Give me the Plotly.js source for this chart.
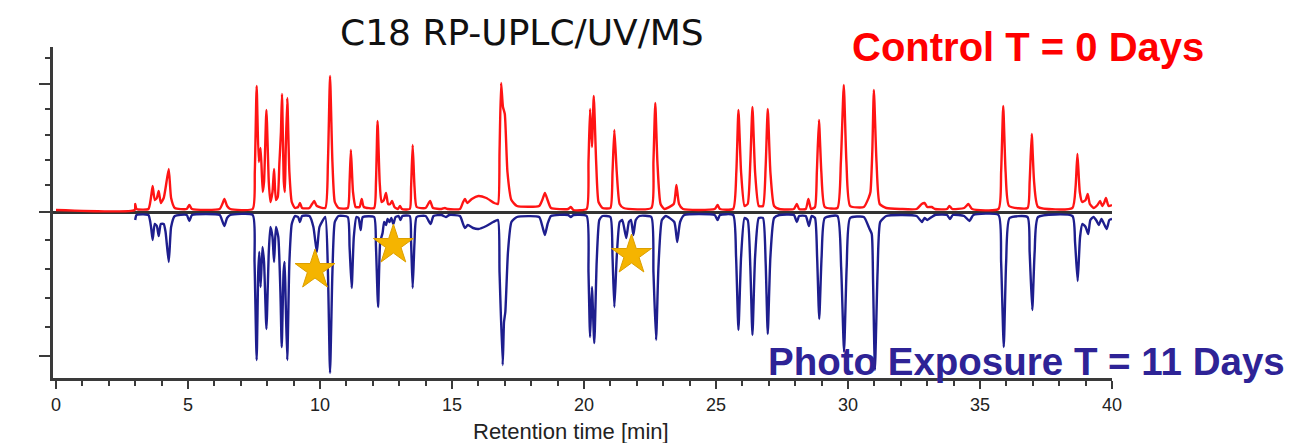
<!DOCTYPE html>
<html>
<head>
<meta charset="utf-8">
<script src="https://cdn.plot.ly/plotly-3.0.1.min.js"></script>
<style>html,body{margin:0;padding:0;background:#fff;}#chart{width:1294px;height:443px;}</style>
</head>
<body>
<div id="chart"></div>
<script>
// Control T = 0 days (retention time [min], relative UV signal)
const redTime = [
  0, 2.98, 3.0, 3.05, 3.5, 3.6, 3.66, 3.74, 3.82, 3.89,
  3.97, 4.08, 4.15, 4.27, 4.36, 4.5, 4.95, 5.05, 5.15, 6.2,
  6.3, 6.38, 6.48, 6.6, 7.45, 7.53, 7.6, 7.68, 7.75, 7.83,
  7.88, 7.97, 8.06, 8.12, 8.2, 8.26, 8.33, 8.4, 8.46, 8.52,
  8.56, 8.63, 8.67, 8.7, 8.76, 8.84, 8.93, 9.05, 9.17, 9.24,
  9.32, 9.6, 9.7, 9.78, 9.88, 10.2, 10.3, 10.38, 10.47, 10.56,
  10.7, 11.05, 11.12, 11.17, 11.25, 11.35, 11.5, 11.58, 11.66, 12.05,
  12.12, 12.18, 12.26, 12.33, 12.42, 12.5, 12.58, 12.66, 12.73, 12.82,
  12.95, 13.03, 13.1, 13.4, 13.45, 13.51, 13.58, 13.66, 14.0, 14.17,
  14.28, 14.6, 14.73, 14.85, 15.3, 15.42, 15.49, 15.58, 15.75, 16.0,
  16.3, 16.6, 16.74, 16.8, 16.86, 16.93, 17.0, 17.1, 17.25, 17.46,
  18.3, 18.42, 18.52, 18.62, 18.75, 19.4, 19.5, 19.6, 20.1, 20.17,
  20.23, 20.3, 20.37, 20.46, 20.55, 20.7, 21.0, 21.08, 21.15, 21.24,
  21.35, 21.5, 22.55, 22.63, 22.7, 22.78, 22.9, 23.05, 23.4, 23.5,
  23.6, 23.75, 24.95, 25.06, 25.15, 25.65, 25.77, 25.85, 25.95, 26.08,
  26.2, 26.3, 26.38, 26.48, 26.62, 26.78, 26.88, 26.96, 27.06, 27.2,
  27.4, 27.95, 28.06, 28.15, 28.4, 28.5, 28.6, 28.75, 28.82, 28.9,
  28.99, 29.12, 29.6, 29.73, 29.84, 29.94, 30.08, 30.6, 30.78, 30.85,
  30.92, 30.98, 31.08, 31.2, 31.45, 32.0, 32.6, 32.79, 32.9, 33.0,
  33.17, 33.3, 33.75, 33.84, 33.95, 34.4, 34.56, 34.7, 35.7, 35.8,
  35.88, 35.97, 36.1, 36.8, 36.88, 36.96, 37.05, 37.2, 38.5, 38.62,
  38.69, 38.78, 38.87, 39.0, 39.08, 39.16, 39.3, 39.45, 39.55, 39.63,
  39.7, 39.77, 39.87, 40.0
];
const redSignal = [
  2, 2, 8, 3, 3, 15, 26, 12, 14, 21,
  9, 14, 24, 43, 14, 4, 3, 7, 3, 3,
  8, 13, 6, 3, 3, 40, 126, 50, 64, 20,
  30, 102, 30, 10, 20, 43, 12, 15, 48, 80,
  118, 30, 20, 60, 114, 40, 10, 4, 5, 9,
  4, 4, 8, 11, 6, 4, 50, 136, 50, 10,
  4, 4, 30, 62, 20, 5, 5, 13, 5, 4,
  30, 91, 30, 10, 12, 19, 8, 8, 11, 5,
  3, 6, 3, 3, 25, 67, 25, 5, 4, 11,
  4, 3, 4, 3, 3, 10, 13, 9, 13, 16,
  14, 9, 8, 60, 129, 105, 98, 40, 12, 6,
  6, 12, 19, 12, 4, 3, 5, 2, 3, 50,
  103, 65, 116, 50, 10, 4, 4, 40, 82, 40,
  8, 4, 4, 50, 109, 50, 8, 3, 8, 27,
  8, 3, 3, 7, 3, 3, 40, 102, 40, 6,
  8, 50, 105, 40, 6, 6, 45, 103, 40, 6,
  3, 3, 8, 3, 3, 13, 3, 5, 40, 92,
  40, 5, 4, 50, 127, 50, 6, 5, 14, 20,
  60, 122, 50, 8, 4, 3, 3, 8, 9, 5,
  5, 3, 3, 6, 3, 4, 8, 3, 3, 40,
  106, 40, 6, 4, 30, 78, 30, 5, 4, 25,
  58, 20, 10, 12, 18, 8, 4, 7, 11, 6,
  9, 14, 6, 7
];

// Photo exposure T = 11 days (plotted inverted)
const blueTime = [
  3.0, 3.05, 3.5, 3.6, 3.66, 3.74, 3.82, 3.89, 3.97, 4.08,
  4.15, 4.27, 4.36, 4.5, 4.95, 5.05, 5.15, 6.2, 6.3, 6.38,
  6.48, 6.6, 7.45, 7.52, 7.6, 7.66, 7.7, 7.75, 7.82, 7.88,
  7.97, 8.06, 8.12, 8.2, 8.26, 8.33, 8.42, 8.5, 8.55, 8.62,
  8.66, 8.7, 8.76, 8.84, 8.93, 9.05, 9.17, 9.24, 9.32, 9.6,
  9.75, 9.88, 9.98, 10.2, 10.3, 10.38, 10.47, 10.56, 10.7, 11.05,
  11.12, 11.2, 11.28, 11.38, 11.46, 11.54, 11.62, 12.05, 12.12, 12.2,
  12.28, 12.37, 12.43, 12.5, 12.56, 12.63, 12.7, 12.78, 12.86, 12.98,
  13.05, 13.12, 13.4, 13.45, 13.51, 13.58, 13.66, 14.0, 14.19, 14.3,
  14.6, 14.77, 14.9, 15.3, 15.42, 15.49, 15.6, 15.8, 16.0, 16.3,
  16.56, 16.74, 16.8, 16.92, 16.97, 17.02, 17.12, 17.25, 17.46, 18.3,
  18.42, 18.52, 18.62, 18.75, 19.4, 19.5, 19.6, 20.1, 20.17, 20.23,
  20.3, 20.39, 20.48, 20.58, 20.7, 21.0, 21.08, 21.15, 21.24, 21.35,
  21.45, 21.6, 21.7, 21.78, 21.87, 21.96, 22.1, 22.55, 22.63, 22.73,
  22.82, 22.95, 23.1, 23.42, 23.53, 23.64, 23.8, 24.95, 25.06, 25.15,
  25.65, 25.76, 25.85, 25.95, 26.08, 26.2, 26.3, 26.38, 26.48, 26.62,
  26.78, 26.88, 26.96, 27.06, 27.2, 27.4, 27.95, 28.06, 28.15, 28.4,
  28.52, 28.62, 28.75, 28.83, 28.91, 29.0, 29.12, 29.6, 29.74, 29.85,
  29.95, 30.08, 30.6, 30.8, 30.9, 30.95, 31.02, 31.12, 31.22, 31.45,
  32.0, 32.6, 32.8, 32.9, 33.0, 33.17, 33.3, 33.75, 33.86, 33.97,
  34.4, 34.6, 34.75, 35.7, 35.8, 35.9, 35.99, 36.12, 36.8, 36.88,
  36.98, 37.07, 37.2, 38.5, 38.6, 38.7, 38.79, 38.88, 39.0, 39.1,
  39.18, 39.3, 39.42, 39.5, 39.6, 39.7, 39.8, 39.9, 40.0
];
const blueSignal = [
  -8, -3, -3, -15, -28, -12, -14, -24, -12, -12,
  -20, -50, -15, -4, -3, -9, -3, -3, -9, -14,
  -6, -3, -3, -50, -148, -60, -40, -75, -35, -50,
  -117, -40, -15, -25, -50, -15, -25, -80, -135, -60,
  -50, -90, -148, -50, -12, -4, -5, -10, -4, -4,
  -15, -40, -15, -5, -60, -161, -60, -10, -4, -5,
  -35, -76, -25, -5, -6, -18, -5, -5, -35, -95,
  -30, -21, -10, -13, -7, -10, -6, -12, -5, -4,
  -8, -4, -4, -30, -76, -30, -5, -4, -12, -4,
  -3, -5, -3, -4, -12, -16, -13, -16, -17, -14,
  -10, -8, -60, -153, -110, -100, -40, -10, -5, -5,
  -14, -23, -12, -4, -3, -5, -3, -4, -60, -125,
  -75, -131, -50, -8, -4, -5, -45, -95, -45, -10,
  -8, -26, -10, -8, -23, -8, -4, -5, -60, -128,
  -55, -8, -4, -10, -30, -10, -3, -3, -8, -3,
  -3, -45, -118, -45, -6, -8, -55, -123, -45, -6,
  -6, -50, -122, -45, -6, -3, -3, -10, -4, -4,
  -14, -4, -6, -45, -107, -45, -6, -4, -55, -140,
  -55, -6, -5, -16, -22, -70, -158, -60, -10, -4,
  -3, -4, -10, -6, -8, -5, -3, -3, -7, -3,
  -4, -9, -3, -3, -50, -135, -50, -6, -5, -40,
  -98, -40, -5, -4, -30, -69, -25, -12, -15, -22,
  -8, -5, -9, -13, -7, -12, -17, -8, -7
];

// Star markers (new degradation peaks)
const starTime = [9.81, 12.78, 21.8];
const starSignal = [-58, -33, -43];

// Axis ticks
const xTickVals = [0, 5, 10, 15, 20, 25, 30, 35, 40];
const xTickLabels = ['0', '5', '10', '15', '20', '25', '30', '35', '40'];
const yTickMajor = [128, 0, -144];
const yTickMinor = [154, 103, 77, 52, 27, -28, -57, -86, -115];

const chartTitle = 'C18 RP-UPLC/UV/MS';
const controlLabel = 'Control T = 0 Days';
const exposureLabel = 'Photo Exposure T = 11 Days';
const xTitle = 'Retention time [min]';

const traces = [
  {x: redTime, y: redSignal, type: 'scatter', mode: 'lines',
   line: {color: '#ff1414', width: 2.4, shape: 'spline', smoothing: 0.5}, hoverinfo: 'skip'},
  {x: blueTime, y: blueSignal, type: 'scatter', mode: 'lines',
   line: {color: '#1e1e8e', width: 2.4, shape: 'spline', smoothing: 0.5}, hoverinfo: 'skip'},
  {x: starTime, y: starSignal, type: 'scatter', mode: 'markers',
   marker: {symbol: 'star', size: 30, color: '#f5b400', line: {color: '#dc9f00', width: 1}},
   hoverinfo: 'skip'}
];

const axisColor = '#3a3a3a';
const layout = {
  width: 1294, height: 443,
  margin: {l: 53, r: 182, t: 47, b: 65},
  paper_bgcolor: '#ffffff', plot_bgcolor: '#ffffff',
  showlegend: false,
  xaxis: {
    range: [-0.114, 40], showgrid: false, zeroline: false,
    showline: true, linecolor: axisColor, linewidth: 3,
    ticks: 'outside', tickvals: xTickVals, ticktext: xTickLabels,
    ticklen: 8, tickwidth: 2, tickcolor: axisColor,
    minor: {dtick: 1, tick0: 0, ticks: 'outside', ticklen: 5, tickwidth: 2, tickcolor: axisColor},
    tickfont: {family: 'Liberation Sans, Arial, sans-serif', size: 18, color: '#222'}
  },
  yaxis: {
    range: [-166, 165], showgrid: false,
    zeroline: true, zerolinecolor: '#333333', zerolinewidth: 3,
    showline: true, linecolor: axisColor, linewidth: 3,
    ticks: 'outside', tickmode: 'array', tickvals: yTickMajor,
    ticklen: 11, tickwidth: 2, tickcolor: axisColor, showticklabels: false,
    minor: {tickmode: 'array', tickvals: yTickMinor, ticks: 'outside', ticklen: 5, tickwidth: 2, tickcolor: axisColor}
  },
  annotations: [
    {text: chartTitle, xref: 'paper', yref: 'paper', x: 0.4429, y: 1.045,
     xanchor: 'center', yanchor: 'middle', showarrow: false,
     font: {family: 'DejaVu Sans, Verdana, sans-serif', size: 36, color: '#111'}},
    {text: '<b>' + controlLabel + '</b>', xref: 'paper', yref: 'paper', x: 0.9207, y: 1.0,
     xanchor: 'center', yanchor: 'middle', showarrow: false,
     font: {family: 'Liberation Sans, Arial, sans-serif', size: 40, color: '#ff0000'}},
    {text: '<b>' + exposureLabel + '</b>', xref: 'paper', yref: 'paper', x: 0.6733, y: 0.05,
     xanchor: 'left', yanchor: 'middle', showarrow: false,
     font: {family: 'Liberation Sans, Arial, sans-serif', size: 38.5, color: '#2e2396'}},
    {text: xTitle, xref: 'paper', yref: 'paper', x: 0.489, y: -0.163,
     xanchor: 'center', yanchor: 'middle', showarrow: false,
     font: {family: 'Liberation Sans, Arial, sans-serif', size: 22, color: '#222'}}
  ]
};

Plotly.newPlot('chart', traces, layout, {displayModeBar: false, staticPlot: true});
</script>
</body>
</html>
